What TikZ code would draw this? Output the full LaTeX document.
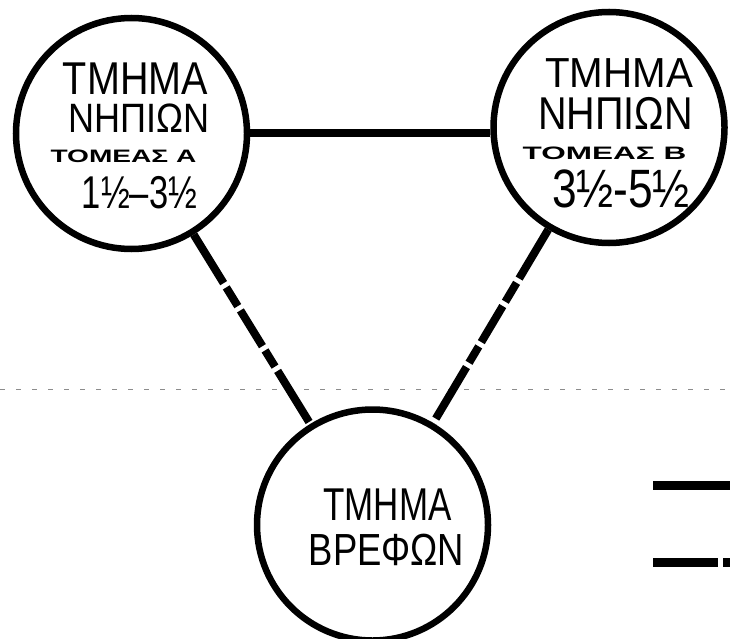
\documentclass[tikz,border=0pt]{standalone}
\usepackage{fontspec}
\setmainfont{Liberation Sans}
\usepackage{graphicx}
\usetikzlibrary{positioning}

\newcommand{\narrowed}[2]{\scalebox{#1}[1]{#2}}

\begin{document}
\begin{tikzpicture}[
            x=1pt, y=-1pt,
            dept/.style={circle, draw, line width=6.5pt, minimum size=231pt, inner sep=0pt},
            word/.style={anchor=base, inner sep=0pt, text height=0.72em, text depth=0pt},
            link/.style={line width=8pt},
            dashlink/.style={line width=8pt, dash pattern=on 57pt off 5pt on 22pt off 5pt on 42pt off 5pt on 19pt off 5pt on 60pt off 5pt},
            fold/.style={line width=0.8pt, black!45, dash pattern=on 5pt off 11pt}
        ]
            \useasboundingbox (0,0) rectangle (730,639);

% faint fold across the page
            \coordinate (f1) at (0,389);
            \coordinate (f2) at (730,389);
            \draw[fold] (f1) -- (f2);

% departments
            \node[dept] (a) at (131.5,133.5) {};
            \node[dept] (b) at (609,127.5) {};
            \node[dept] (c) at (372.5,525) {};

% links
            \draw[link] (a.east) -- (a.east -| b.west);
            \draw[dashlink] (a) -- (c);
            \draw[dashlink] (b) -- (c);

% texts
            \node[word, font=\fontsize{46}{46}\selectfont] (a1) at (135.5,95) {\narrowed{0.86}{ΤΜΗΜΑ}};
            \node[word, font=\fontsize{41}{41}\selectfont] (a2) at (139,133) {\narrowed{0.88}{ΝΗΠΙΩΝ}};
            \node[word, font=\bfseries\fontsize{18}{18}\selectfont] (a3) at (123.5,163) {\narrowed{1.56}{ΤΟΜΕΑΣ Α}};
            \node[word, font=\fontsize{46}{46}\selectfont] (a4) at (139.5,208) {\narrowed{0.75}{1½–3½}};

            \node[word, font=\fontsize{42}{42}\selectfont] (b1) at (619,88) {\narrowed{0.96}{ΤΜΗΜΑ}};
            \node[word, font=\fontsize{46}{46}\selectfont] (b2) at (615.5,130) {\narrowed{0.86}{ΝΗΠΙΩΝ}};
            \node[word, font=\bfseries\fontsize{18}{18}\selectfont] (b3) at (604.5,160) {\narrowed{1.75}{ΤΟΜΕΑΣ Β}};
            \node[word, font=\fontsize{54}{54}\selectfont] (b4) at (621,207) {\narrowed{0.82}{3½-5½}};

            \node[word, font=\fontsize{46}{46}\selectfont] (c1) at (387.5,520) {\narrowed{0.76}{ΤΜΗΜΑ}};
            \node[word, font=\fontsize{45}{45}\selectfont] (c2) at (386.5,565) {\narrowed{0.81}{ΒΡΕΦΩΝ}};

% legend samples
            \coordinate (s1) at (653,485);
            \coordinate (s2) at (730,485);
            \coordinate (d1) at (653,562);
            \coordinate (d2) at (730,562);
            \draw[link, line width=9pt] (s1) -- (s2);
            \draw[link, line width=9pt, dash pattern=on 65pt off 5pt] (d1) -- (d2);

        \end{tikzpicture}
\end{document}
